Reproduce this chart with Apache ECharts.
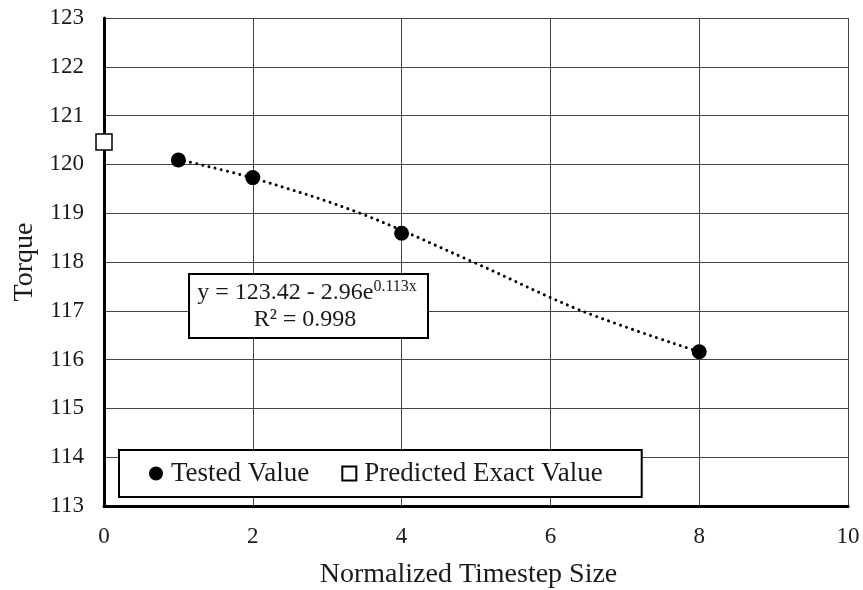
<!DOCTYPE html>
<html>
<head>
<meta charset="utf-8">
<script src="https://cdn.jsdelivr.net/npm/echarts@6/dist/echarts.min.js"></script>
<style>
  html, body { margin: 0; padding: 0; background: #fff; }
  #chart { width: 863px; height: 590px; }
</style>
</head>
<body>
<div id="chart"></div>
<script>
// Torque convergence versus normalized timestep size
const timestepSizes = [1, 2, 4, 8];
const testedTorque = [120.09, 119.73, 118.59, 116.16];

const predictedStep = [0];
const predictedTorque = [120.46];

// dotted trend curve, sampled along the fitted line
const trendX = [1, 2, 3.44, 4.96, 6.42, 8];
const trendY = [120.1, 119.72, 119.0, 118.0, 117.0, 116.16];

const xTicks = [0, 2, 4, 6, 8, 10];
const yMin = 113, yMax = 123;

const FONT = 'Liberation Serif';
const INK = '#1a1a1a';

const chart = echarts.init(document.getElementById('chart'), null, { renderer: 'canvas' });

const zip = (xs, ys) => xs.map((x, i) => [x, ys[i]]);

chart.setOption({
  animation: false,
  backgroundColor: '#ffffff',
  grid: { left: 104, right: 15, top: 18, bottom: 84, containLabel: false, outerBoundsMode: 'none' },
  xAxis: {
    type: 'value',
    min: xTicks[0], max: xTicks[xTicks.length - 1], interval: 2,
    name: 'Normalized Timestep Size',
    nameLocation: 'middle', nameGap: 55,
    nameTextStyle: { fontFamily: FONT, fontSize: 28, color: INK, padding: [0, 15, 0, 0] },
    axisLine: { show: true, onZero: false, lineStyle: { color: '#000', width: 3 } },
    axisTick: { show: false },
    axisLabel: { fontFamily: FONT, fontSize: 23, color: INK, margin: 19 },
    splitLine: { show: true, lineStyle: { color: '#444', width: 1 } }
  },
  yAxis: {
    type: 'value',
    min: yMin, max: yMax, interval: 1,
    name: 'Torque',
    nameLocation: 'middle', nameGap: 58,
    nameTextStyle: { fontFamily: FONT, fontSize: 28, color: INK },
    axisLine: { show: true, onZero: false, lineStyle: { color: '#000', width: 3 } },
    axisTick: { show: false },
    axisLabel: { fontFamily: FONT, fontSize: 23, color: INK, margin: 20 },
    splitLine: { show: true, lineStyle: { color: '#444', width: 1 } }
  },
  legend: {
    left: 119, top: 450,
    data: [
      { name: 'Tested Value', icon: 'circle' },
      { name: 'Predicted Exact Value', icon: 'rect' }
    ],
    itemWidth: 14, itemHeight: 14, itemGap: 32,
    padding: [10, 39, 10, 30],
    backgroundColor: '#fff',
    borderColor: '#000', borderWidth: 2,
    textStyle: { fontFamily: FONT, fontSize: 27, color: INK, padding: [0, 0, 0, 3] }
  },
  series: [
    {
      name: 'Trend',
      type: 'line',
      data: zip(trendX, trendY),
      smooth: 0.35,
      showSymbol: false,
      lineStyle: { color: '#000', width: 3, type: [0.01, 6.3], cap: 'round' },
      silent: true,
      z: 2
    },
    {
      name: 'Tested Value',
      type: 'scatter',
      data: zip(timestepSizes, testedTorque),
      symbol: 'circle', symbolSize: 15,
      itemStyle: { color: '#000', opacity: 1 },
      z: 4
    },
    {
      name: 'Predicted Exact Value',
      type: 'scatter',
      data: zip(predictedStep, predictedTorque),
      symbol: 'rect', symbolSize: 16,
      clip: false,
      itemStyle: { color: '#fff', borderColor: '#000', borderWidth: 1.5, opacity: 1 },
      z: 5
    }
  ],
  graphic: [
    {
      type: 'rect',
      shape: { x: 189, y: 274, width: 239, height: 64 },
      style: { fill: '#fff', stroke: '#000', lineWidth: 2 },
      z: 10
    },
    {
      type: 'text',
      x: 307, y: 279,
      style: {
        text: '{m|y = 123.42 - 2.96e}{s|0.113x}',
        align: 'center',
        rich: {
          m: { fontFamily: FONT, fontSize: 24, fill: INK, lineHeight: 28 },
          s: { fontFamily: FONT, fontSize: 16, fill: INK, lineHeight: 28, verticalAlign: 'top', padding: [0, 0, 10, 0] }
        }
      },
      z: 11
    },
    {
      type: 'text',
      x: 305, y: 320,
      style: {
        text: 'R² = 0.998',
        align: 'center', verticalAlign: 'middle',
        fontFamily: FONT, fontSize: 24, fill: INK
      },
      z: 11
    }
  ]
});
</script>
</body>
</html>
